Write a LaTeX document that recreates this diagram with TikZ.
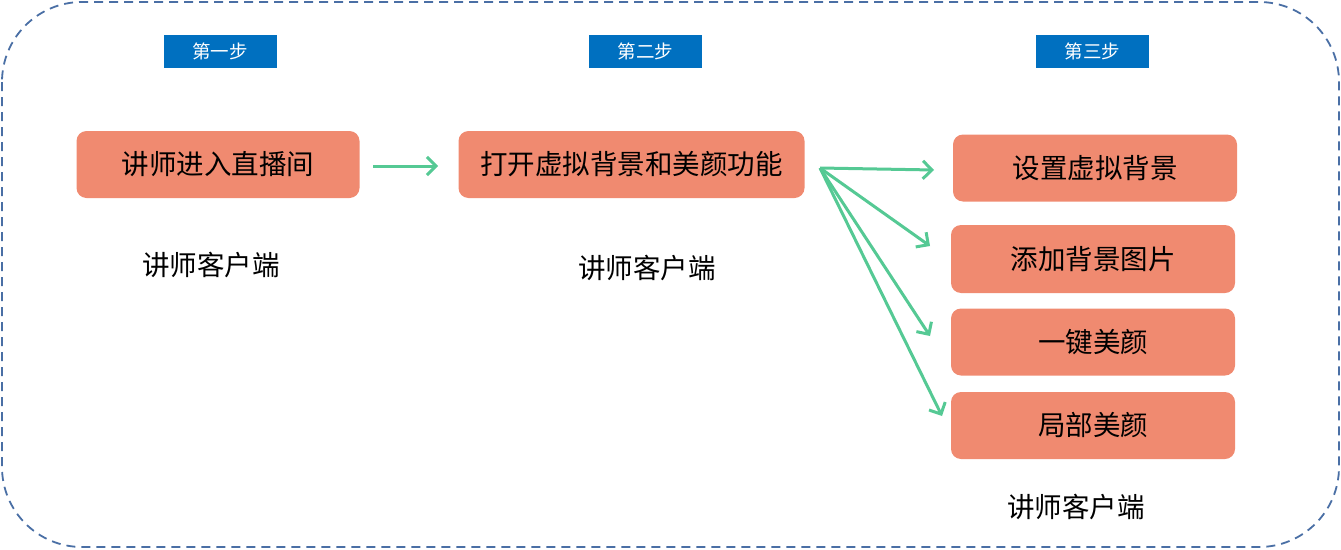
\documentclass[tikz,border=0pt]{standalone}
\usepackage{fontspec}
\setmainfont{Noto Sans CJK SC}
\usetikzlibrary{arrows.meta}
\definecolor{boxred}{HTML}{F08A70}
\definecolor{stepblue}{HTML}{0070C0}
\definecolor{arrgreen}{HTML}{55C994}
\definecolor{border}{HTML}{4A6FA5}
\begin{document}
\begin{tikzpicture}[x=1pt,y=-1pt,
  mainbox/.style={fill=boxred,rounded corners=10pt,inner sep=0pt,minimum height=67pt,font=\fontsize{27.5}{32}\selectfont},
  stepbox/.style={fill=stepblue,text=white,inner sep=0pt,minimum width=113pt,minimum height=33pt,font=\fontsize{18.5}{22}\selectfont},
  client/.style={font=\fontsize{27.5}{32}\selectfont},
  flow/.style={draw=arrgreen,line width=3pt,-{Straight Barb[length=9pt,width=18pt,line width=3pt]}}]
\useasboundingbox (0,0) rectangle (1341,549);
\draw[border,line width=1.8pt,dash pattern=on 9pt off 6pt,rounded corners=80pt] (2,2) rectangle (1339,547);
\node[stepbox] (s1) at (220,51) {第一步};
\node[stepbox] (s2) at (645.5,51) {第二步};
\node[stepbox] (s3) at (1092.5,51) {第三步};
\node[mainbox,minimum width=283pt] (a) at (218,164.5) {讲师进入直播间};
\node[mainbox,minimum width=346pt] (b) at (631.5,164.5) {打开虚拟背景和美颜功能};
\node[mainbox,minimum width=284pt] (c1) at (1095,168) {设置虚拟背景};
\node[mainbox,minimum width=284pt,minimum height=68pt] (c2) at (1093,259) {添加背景图片};
\node[mainbox,minimum width=284pt] (c3) at (1093,342) {一键美颜};
\node[mainbox,minimum width=284pt] (c4) at (1093,425.5) {局部美颜};
\node[client] (l1) at (211,265) {讲师客户端};
\node[client] (l2) at (647,268) {讲师客户端};
\node[client] (l3) at (1076,507) {讲师客户端};
\coordinate (a1) at (373,166);
\coordinate (a2) at (438,166);
\coordinate (f0) at (820,168);
\coordinate (f1) at (934,170);
\coordinate (f2) at (930,246);
\coordinate (f3) at (930,336);
\coordinate (f4) at (942,416);
\draw[flow] (a1) -- (a2);
\draw[flow] (f0) -- (f1);
\draw[flow] (f0) -- (f2);
\draw[flow] (f0) -- (f3);
\draw[flow] (f0) -- (f4);
\end{tikzpicture}
\end{document}
